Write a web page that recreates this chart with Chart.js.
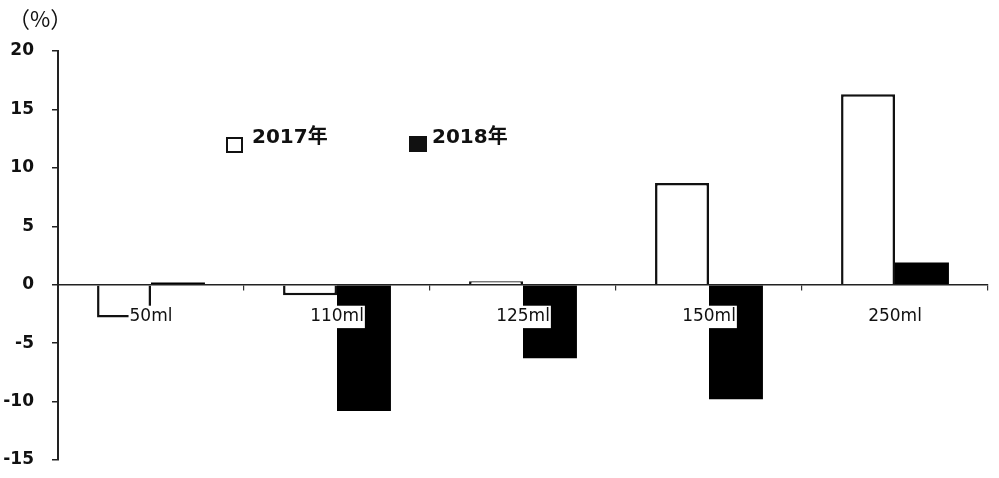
<!DOCTYPE html>
<html>
<head>
<meta charset="utf-8">
<script src="https://cdn.jsdelivr.net/npm/chart.js@4.4.1/dist/chart.umd.min.js"></script>
<style>
  html, body { margin: 0; padding: 0; background: #fff; }
  #wrap { width: 999px; height: 478px; }
</style>
</head>
<body>
<div id="wrap"><canvas id="c" width="999" height="478"></canvas></div>
<script>
const categories = ['50ml', '110ml', '125ml', '150ml', '250ml'];
const series2017 = [-2.8, -0.9, 0.3, 8.7, 16.3];
const series2018 = [0.2, -10.8, -6.3, -9.8, 1.9];
const seriesNames = ['2017年', '2018年'];
const yTicks = [-15, -10, -5, 0, 5, 10, 15, 20];
const unitLabel = '（%）';

const overlay = {
  id: 'overlay',
  afterDraw(chart) {
    const ctx = chart.ctx;
    ctx.save();
    ctx.fillStyle = '#111';
    ctx.font = '22px "Noto Sans CJK SC", "Noto Sans CJK JP"';
    ctx.textBaseline = 'middle';
    ctx.textAlign = 'left';
    ctx.fillText(unitLabel, 8, 19);
    const ds = chart.data.datasets;
    ctx.font = 'bold 20px "DejaVu Sans", "Noto Sans CJK JP"';
    ctx.textBaseline = 'alphabetic';
    ctx.strokeStyle = '#111';
    ctx.lineWidth = 2;
    ctx.strokeRect(227, 138, 15, 14);
    ctx.fillText(ds[0].label, 252, 143);
    ctx.fillStyle = '#111';
    ctx.fillRect(409, 136, 18, 16);
    ctx.fillText(ds[1].label, 432, 143);
    ctx.restore();
  }
};

new Chart(document.getElementById('c'), {
  type: 'bar',
  data: {
    labels: categories,
    datasets: [
      {
        label: seriesNames[0],
        data: series2017,
        backgroundColor: '#ffffff',
        borderColor: '#111',
        borderWidth: 2.5,
        categoryPercentage: 0.58,
        barPercentage: 1.0
      },
      {
        label: seriesNames[1],
        data: series2018,
        backgroundColor: '#000000',
        borderColor: '#000000',
        borderWidth: 0,
        categoryPercentage: 0.58,
        barPercentage: 1.0
      }
    ]
  },
  options: {
    responsive: false,
    animation: false,
    devicePixelRatio: 1,
    layout: { padding: { top: 51, right: 11, bottom: 18, left: 0 } },
    plugins: {
      legend: { display: false },
      tooltip: { enabled: false },
      title: { display: false }
    },
    scales: {
      x: {
        position: { y: 0 },
        afterFit(scale) { scale.height = 0; },
        grid: {
          offset: true,
          drawOnChartArea: false,
          drawTicks: true,
          tickLength: 5,
          color: '#333',
          lineWidth: 1.2
        },
        border: { display: true, color: '#222', width: 1.5, z: 1 },
        ticks: {
          z: 2,
          color: '#111',
          font: { family: '"DejaVu Sans"', size: 17 },
          padding: 17,
          maxRotation: 0,
          showLabelBackdrop: true,
          backdropColor: '#ffffff',
          backdropPadding: { top: 1, bottom: 1, left: 1, right: 1 }
        }
      },
      y: {
        min: -15,
        max: 20,
        afterFit(scale) {
          scale.width = 58;
          scale.paddingTop = 0;
          scale.paddingBottom = 0;
        },
        afterBuildTicks(scale) { scale.ticks = yTicks.map(v => ({ value: v })); },
        grid: {
          drawOnChartArea: false,
          drawTicks: true,
          tickLength: 6,
          color: '#222',
          lineWidth: 1.5
        },
        border: { display: true, color: '#222', width: 2 },
        ticks: {
          color: '#111',
          font: { family: '"DejaVu Sans"', size: 17, weight: 'bold' },
          padding: 18
        }
      }
    }
  },
  plugins: [overlay]
});
</script>
</body>
</html>
